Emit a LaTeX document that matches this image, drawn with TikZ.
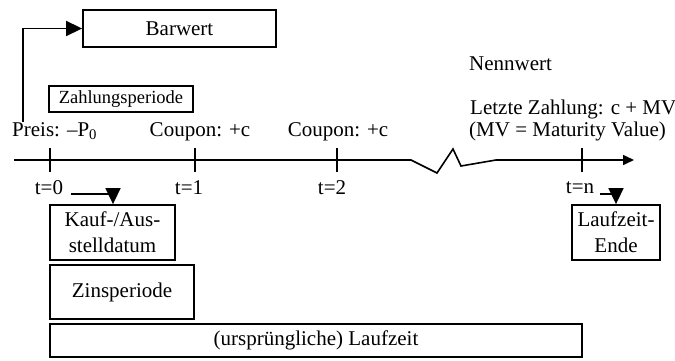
\documentclass[tikz,border=0pt]{standalone}
\usepackage{fontspec}
\setmainfont{Liberation Serif}
\usetikzlibrary{arrows.meta}
\begin{document}
\begin{tikzpicture}[x=1pt,y=-1pt,
  font=\fontsize{21}{26}\selectfont,
  box/.style={draw,line width=1.8pt,inner sep=0pt,align=center},
  lbl/.style={inner sep=0pt,align=left},
  arr/.style={line width=1.6pt,-{Triangle[length=16pt,width=15pt]}},
  axisarr/.style={line width=1.6pt,-{Triangle[length=11pt,width=10pt]}},
  tick/.style={line width=1.6pt}]
\useasboundingbox (0,0) rectangle (675,360);
% boxes
\node[box,minimum width=193pt,minimum height=37pt] (barwert) at (179.5,28.5) {Barwert};
\node[box,minimum width=144pt,minimum height=26pt,font=\fontsize{18.5}{22}\selectfont] (zp) at (121,99) {Zahlungsperiode};
\node[box,minimum width=125pt,minimum height=55pt] (kauf) at (112.5,232.5) {Kauf-/Aus-\\[0pt]stelldatum};
\node[box,minimum width=144pt,minimum height=54pt] (zins) at (122,292) {Zinsperiode};
\node[box,minimum width=532pt,minimum height=33pt] (lauf) at (316,340.5) {(ursprüngliche) Laufzeit};
\node[box,minimum width=88pt,minimum height=55pt] (ende) at (616,232.5) {Laufzeit-\\[0pt]Ende};
% labels above axis
\node[lbl,anchor=base west] (preis) at (12,136) {Preis: –P\textsubscript{0}};
\node[lbl,anchor=base] (c1) at (200,136) {Coupon: +c};
\node[lbl,anchor=base] (c2) at (338,136) {Coupon: +c};
\node[lbl,anchor=base west] (nenn) at (469,70) {Nennwert};
\node[lbl,anchor=base west] (letzte) at (470,114) {Letzte Zahlung: c + MV};
\node[lbl,anchor=base west] (mv) at (469,136) {(MV = Maturity Value)};
% axis
\coordinate (a0) at (14,160);
\coordinate (a1) at (411,160);
\coordinate (a2) at (437,173);
\coordinate (a3) at (453,149);
\coordinate (a4) at (461,166);
\coordinate (a5) at (496,160);
\coordinate (aend) at (634,160);
\draw[axisarr] (a0) -- (a1) -- (a2) -- (a3) -- (a4) -- (a5) -- (aend);
% ticks
\foreach \n/\x in {k0/50,k1/195,k2/337,kn/582}{
  \coordinate (\n) at (\x,160);
  \draw[tick] ([yshift=-12pt]\n) -- ([yshift=12pt]\n);
}
% tick labels
\node[lbl,anchor=base] (t0) at (49,194) {t=0};
\node[lbl,anchor=base] (t1) at (189,194) {t=1};
\node[lbl,anchor=base] (t2) at (332,194) {t=2};
\node[lbl,anchor=base] (tn) at (580,193) {t=n};
% connectors
\draw[arr] ([xshift=11pt]preis.north west) |- (barwert.west);
\draw[arr] ([xshift=8pt,yshift=-7pt]t0.east) -| ([xshift=0.5pt]kauf.north);
\draw[arr] ([xshift=6pt,yshift=-7pt]tn.east) -| (ende.north);
\end{tikzpicture}
\end{document}
